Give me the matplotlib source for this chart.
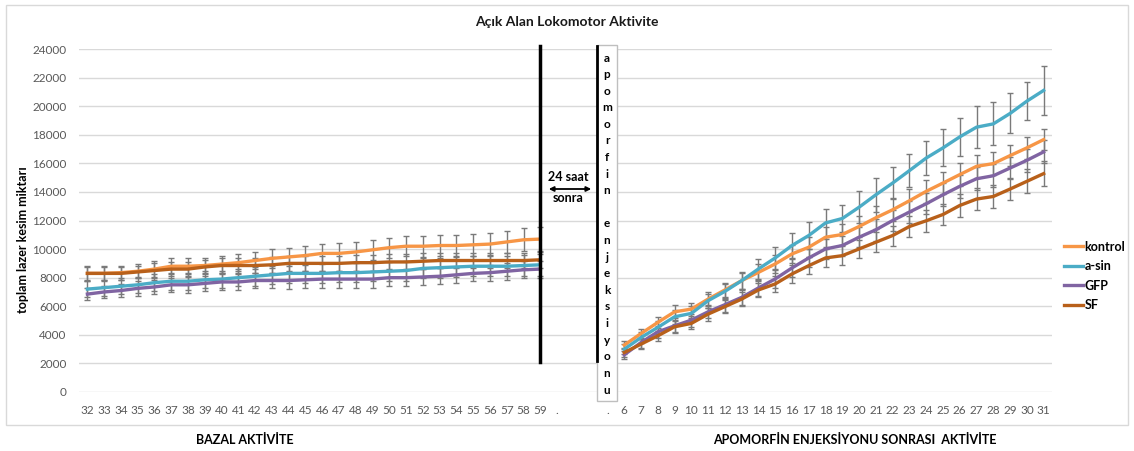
import numpy as np
import matplotlib
matplotlib.use("Agg")
import matplotlib.pyplot as plt
from matplotlib.patches import Rectangle, FancyArrowPatch
from matplotlib.lines import Line2D

plt.rcParams['font.family'] = ['Lato', 'DejaVu Sans']

# ---------------- data ----------------
basal_days = [str(d) for d in range(32, 60)]
gap_labels = [".", "", "", "."]
apo_days = [str(d) for d in range(6, 32)]
categories = basal_days + gap_labels + apo_days

series_names = ["kontrol", "a-sin", "GFP", "SF"]

kontrol_basal = [8300, 8300, 8350, 8450, 8600, 8800, 8800, 8850, 8950, 9050, 9200, 9350, 9450, 9550,
                 9700, 9700, 9800, 9950, 10100, 10200, 10200, 10250, 10250, 10300, 10350, 10500, 10650, 10700]
asin_basal = [7200, 7300, 7400, 7500, 7650, 7750, 7750, 7850, 7900, 8000, 8100, 8200, 8300, 8300,
              8300, 8350, 8350, 8400, 8450, 8500, 8650, 8700, 8750, 8800, 8800, 8800, 8850, 8900]
gfp_basal = [6850, 7000, 7100, 7250, 7350, 7500, 7500, 7600, 7700, 7700, 7800, 7800, 7800, 7850,
             7900, 7900, 7900, 7900, 8000, 8000, 8050, 8100, 8200, 8300, 8350, 8450, 8550, 8600]
sf_basal = [8300, 8300, 8300, 8400, 8500, 8600, 8600, 8750, 8850, 8850, 8850, 8900, 9000, 9000,
            9000, 9000, 9050, 9050, 9100, 9100, 9150, 9200, 9200, 9200, 9200, 9200, 9200, 9250]

kontrol_apo = [3280, 4090, 4870, 5610, 5800, 6500, 7140, 7790, 8370, 8960, 9660, 10130, 10830, 11020,
               11580, 12190, 12750, 13380, 14040, 14620, 15210, 15790, 15980, 16540, 17080, 17660]
asin_apo = [2990, 3810, 4520, 5260, 5500, 6390, 7040, 7790, 8610, 9380, 10250, 10950, 11830, 12140,
            12930, 13800, 14620, 15490, 16370, 17080, 17850, 18530, 18760, 19490, 20350, 21100]
gfp_apo = [2600, 3460, 4210, 4630, 5030, 5610, 6110, 6620, 7280, 7910, 8680, 9380, 10010, 10250,
           10830, 11350, 12000, 12590, 13170, 13800, 14390, 14920, 15130, 15670, 16210, 16800]
sf_apo = [2760, 3350, 3930, 4560, 4800, 5450, 5970, 6500, 7140, 7560, 8260, 8840, 9380, 9540,
          10010, 10480, 10950, 11580, 11980, 12420, 13050, 13500, 13680, 14200, 14740, 15280]

kontrol_err_basal = [500, 500, 500, 500, 550, 550, 550, 550, 600, 600, 600, 650, 650, 650,
                     650, 700, 700, 700, 700, 700, 750, 750, 750, 750, 750, 800, 800, 850]
asin_err_basal = [550, 550, 550, 550, 600, 600, 600, 600, 600, 600, 650, 650, 650, 650,
                  650, 650, 650, 650, 650, 700, 700, 700, 700, 700, 700, 700, 750, 750]
gfp_err_basal = [400, 450, 450, 500, 500, 500, 550, 550, 550, 550, 550, 550, 600, 600,
                 600, 600, 600, 600, 600, 600, 550, 550, 550, 550, 550, 600, 600, 600]
sf_err_basal = [450, 450, 450, 450, 500, 500, 500, 500, 500, 500, 500, 550, 550, 550,
                550, 550, 550, 550, 550, 550, 550, 550, 550, 550, 550, 550, 550, 550]

kontrol_err_apo = [300, 350, 400, 450, 450, 500, 500, 550, 600, 600, 650, 700, 700, 750,
                   750, 800, 800, 800, 800, 800, 800, 800, 800, 750, 750, 750]
asin_err_apo = [350, 400, 450, 500, 500, 500, 550, 600, 700, 800, 900, 950, 950, 950,
                1100, 1200, 1150, 1150, 1200, 1300, 1350, 1450, 1500, 1400, 1350, 1700]
gfp_err_apo = [300, 350, 400, 400, 450, 450, 500, 500, 550, 600, 650, 650, 700, 700,
               700, 750, 750, 750, 750, 800, 800, 800, 800, 800, 800, 800]
sf_err_apo = [300, 350, 350, 400, 400, 450, 450, 500, 500, 550, 600, 600, 650, 650,
              650, 700, 700, 750, 750, 750, 800, 800, 800, 800, 850, 850]

colors = {"kontrol": "#F79646", "a-sin": "#4BACC6", "GFP": "#8064A2", "SF": "#B8601A"}

gap = [np.nan] * len(gap_labels)
values = {
    "kontrol": kontrol_basal + gap + kontrol_apo,
    "a-sin": asin_basal + gap + asin_apo,
    "GFP": gfp_basal + gap + gfp_apo,
    "SF": sf_basal + gap + sf_apo,
}
errors = {
    "kontrol": kontrol_err_basal + gap + kontrol_err_apo,
    "a-sin": asin_err_basal + gap + asin_err_apo,
    "GFP": gfp_err_basal + gap + gfp_err_apo,
    "SF": sf_err_basal + gap + sf_err_apo,
}

# ---------------- figure ----------------
W, H = 1134, 451
fig = plt.figure(figsize=(W / 100, H / 100), dpi=100)

def fx(px):
    return px / W

def fy(py):
    return 1 - py / H

ax_left, ax_right, ax_top, ax_bot = 79, 1052, 49, 392
ax = fig.add_axes([fx(ax_left), fy(ax_bot), fx(ax_right - ax_left), (ax_bot - ax_top) / H])

x = np.arange(len(categories))
for name in series_names:
    ax.errorbar(x, values[name], yerr=errors[name], color=colors[name], lw=2.4,
                ecolor="#7a7a7a", elinewidth=1.0, capsize=2.5, capthick=1.0, zorder=3)

ax.set_xlim(-0.5, len(categories) - 0.5)
ax.set_ylim(0, 24000)
ax.set_yticks(np.arange(0, 24001, 2000))
ax.set_xticks(x)
ax.set_xticklabels(categories)
ax.tick_params(axis="both", length=0, labelsize=8.5, labelcolor="#595959")
ax.tick_params(axis="x", pad=9)
ax.tick_params(axis="y", pad=9)
ax.grid(axis="y", color="#d9d9d9", lw=1.0, zorder=0)
ax.set_axisbelow(True)
for s in ax.spines.values():
    s.set_visible(False)

# vertical separator line at day 59
ax.plot([27, 27], [2100, 24200], color="black", lw=2.5, clip_on=False, zorder=4)

# chart border
fig.patches.append(Rectangle((fx(6), fy(425)), fx(1122), (425 - 5) / H, transform=fig.transFigure,
                             fill=False, edgecolor="#d9d9d9", lw=1.0))

# title
fig.text(fx(567), fy(22), "Açık Alan Lokomotor Aktivite", ha="center", va="center",
         fontsize=10, fontweight="bold", color="#1a1a1a")

# y label
fig.text(fx(23), fy(240), "toplam lazer kesim miktarı", rotation=90, ha="center", va="center",
         fontsize=9, fontweight="bold", color="black")

# section labels
fig.text(fx(245), fy(440), "BAZAL AKTİVİTE", ha="center", va="center", fontsize=9,
         fontweight="bold", color="black")
fig.text(fx(855), fy(440), "APOMORFİN ENJEKSİYONU SONRASI  AKTİVİTE", ha="center", va="center",
         fontsize=9, fontweight="bold", color="black")

# 24 saat sonra with double arrow
fig.text(fx(568), fy(177), "24 saat", ha="center", va="center", fontsize=9, fontweight="bold")
fig.text(fx(568), fy(198), "sonra", ha="center", va="center", fontsize=9, fontweight="bold")
fig.add_artist(FancyArrowPatch((fx(546), fy(189)), (fx(594), fy(189)),
                               transform=fig.transFigure, arrowstyle="<|-|>",
                               mutation_scale=7, lw=1.3, color="black"))

# vertical text box
fig.patches.append(Rectangle((fx(597), fy(401)), fx(20), (401 - 45) / H, transform=fig.transFigure,
                             facecolor="white", edgecolor="#bfbfbf", lw=1.0, zorder=5))
fig.add_artist(Line2D([fx(597), fx(597)], [fy(46), fy(361)], color="black", lw=2.0,
                      transform=fig.transFigure, zorder=6))
word = "apomorfin enjeksiyonu"
yy = 58
for ch in word:
    if ch != " ":
        fig.text(fx(607), fy(yy), ch, ha="center", va="center", fontsize=8.5,
                 fontweight="bold", color="black", zorder=7)
    yy += 16.6

# legend
leg_handles = [Line2D([0], [0], color=colors[n], lw=2.4) for n in series_names]
fig.legend(leg_handles, series_names, loc="center left", bbox_to_anchor=(fx(1064), fy(276)),
           frameon=False, handlelength=1.5, handletextpad=0.15, labelspacing=0.6,
           borderpad=0, borderaxespad=0, prop={"weight": "bold", "size": 9})

fig.savefig("out.png", dpi=100)
